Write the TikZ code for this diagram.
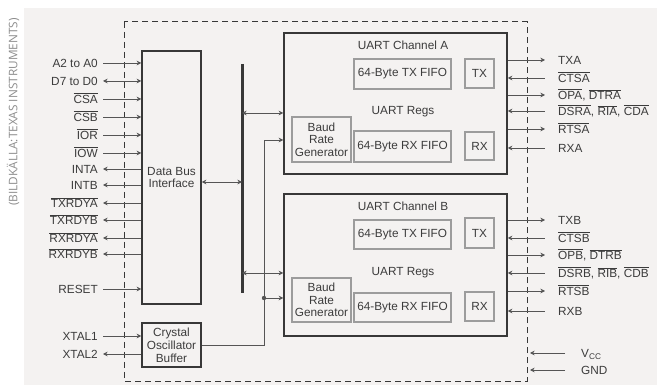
\documentclass[tikz,border=0pt]{standalone}
\usepackage{fontspec}
\setmainfont{Liberation Sans}
\newfontfamily\creditfont{Open Sans}
\definecolor{chipgray}{HTML}{383838}
\definecolor{wiregray}{HTML}{555555}
\definecolor{fifogray}{HTML}{9C9C9C}
\definecolor{pagegray}{HTML}{F4F2F1}
\definecolor{labelgray}{HTML}{3C3C3C}
\definecolor{creditgray}{HTML}{8C8C8C}
\usetikzlibrary{arrows.meta,positioning}
\newcommand{\chipfont}{\fontsize{11.8}{12.5}\selectfont}
\newcommand{\ovl}[1]{$\overline{\mbox{#1}}$}
\tikzset{
    chipblock/.style={
        draw=chipgray,
        line width=1.5pt,
        inner sep=0pt,
        align=center,
        font=\chipfont,
        text=labelgray
    },
    fifoblock/.style={
        draw=fifogray,
        line width=1.3pt,
        inner sep=0pt,
        align=center,
        font=\chipfont,
        text=labelgray
    },
    chiptext/.style={
        inner sep=0pt,
        text height=8.5pt,
        text depth=0pt,
        font=\chipfont,
        text=labelgray
    },
    pinleft/.style={
        chiptext,
        anchor=east
    },
    pinright/.style={
        chiptext,
        anchor=west
    },
    wire/.style={
        draw=wiregray,
        line width=0.75pt
    },
    wireto/.style={
        wire,
        -{Stealth[length=4.6pt,width=4.6pt]}
    },
    wirefrom/.style={
        wire,
        {Stealth[length=4.6pt,width=4.6pt]}-
    },
    wireboth/.style={
        wire,
        {Stealth[length=4.6pt,width=4.6pt]}-{Stealth[length=4.6pt,width=4.6pt]}
    },
    busline/.style={
        draw=chipgray,
        line width=3pt
    }
}

\begin{document}
\begin{tikzpicture}[x=1pt,y=-1pt]
        \useasboundingbox (0,0) rectangle (657,385);
        \fill[pagegray] (24,8) rectangle (657,385);
        \node[rotate=90,inner sep=0pt,text=creditgray,
            font=\creditfont\fontsize{11.8}{12}\selectfont]
            (credit) at (13,112) {(BILDKÄLLA:TEXAS INSTRUMENTS)};

        % chip outline
        \draw[draw=chipgray,line width=1pt,dash pattern=on 6pt off 4pt]
            (124,22) rectangle (527,381);

        \node[chipblock,minimum width=59pt,minimum height=253pt]
            (dbi) at (171.5,177.5) {Data Bus\\Interface};
        \node[chipblock,minimum width=59pt,minimum height=44pt,
            font=\fontsize{11.8}{13}\selectfont]
            (crystal) at (171.5,345) {Crystal\\Oscillator\\Buffer};

        % channel A
        \node[chipblock,minimum width=223pt,minimum height=141pt]
            (chanA) at (395.5,103.5) {};
        \node[chiptext] (titleA) at (403,45) {UART Channel A};
        \node[chiptext] (regsA) at (403,110) {UART Regs};
        \node[fifoblock,minimum width=97pt,minimum height=30pt]
            (txfifoA) at (402.5,74) {64-Byte TX FIFO};
        \node[fifoblock,minimum width=29pt,minimum height=29pt]
            (txA) at (479.5,73.5) {TX};
        \node[fifoblock,minimum width=59pt,minimum height=45pt]
            (baudA) at (321.5,139.5) {Baud\\Rate\\Generator};
        \node[fifoblock,minimum width=97pt,minimum height=31pt]
            (rxfifoA) at (402.5,146.5) {64-Byte RX FIFO};
        \node[fifoblock,minimum width=29pt,minimum height=28pt]
            (rxA) at (479.5,146) {RX};

        % channel B
        \node[chipblock,minimum width=223pt,minimum height=142pt]
            (chanB) at (395.5,265) {};
        \node[chiptext] (titleB) at (403,206) {UART Channel B};
        \node[chiptext] (regsB) at (403,271) {UART Regs};
        \node[fifoblock,minimum width=97pt,minimum height=29pt]
            (txfifoB) at (402.5,234.5) {64-Byte TX FIFO};
        \node[fifoblock,minimum width=29pt,minimum height=30pt]
            (txB) at (479.5,233) {TX};
        \node[fifoblock,minimum width=59pt,minimum height=44pt]
            (baudB) at (321.5,300) {Baud\\Rate\\Generator};
        \node[fifoblock,minimum width=97pt,minimum height=29pt]
            (rxfifoB) at (402.5,307.5) {64-Byte RX FIFO};
        \node[fifoblock,minimum width=29pt,minimum height=29pt]
            (rxB) at (479.5,306.5) {RX};

        % internal bus and clock
        \coordinate (busTop) at (242,64);
        \coordinate (busBot) at (242,293);
        \coordinate (busDbi) at (242,182);
        \coordinate (busA) at (242,113);
        \coordinate (busB) at (242,273);
        \coordinate (clkA) at (264,140);
        \coordinate (clkB) at (264,298);
        \draw[busline] (busTop) -- (busBot);
        \draw[wireboth] (busDbi -| dbi.east) -- (busDbi);
        \draw[wireboth] (busA) -- (busA -| chanA.west);
        \draw[wireboth] (busB) -- (busB -| chanB.west);
        \draw[wireto] (crystal.east) -| (clkA) -- (clkA -| chanA.west);
        \draw[wireto] (clkB) -- (clkB -| chanB.west);
        \fill[wiregray] (clkB) circle (2.2pt);

        % host side pins
        \node[pinleft] (a2L) at (98,63) {A2 to A0};
        \node[pinleft] (d7L) at (98,81) {D7 to D0};
        \node[pinleft] (csaL) at (98,99) {\ovl{CSA}};
        \node[pinleft] (csbL) at (98,117) {\ovl{CSB}};
        \node[pinleft] (iorL) at (98,135) {\ovl{IOR}};
        \node[pinleft] (iowL) at (98,153) {\ovl{IOW}};
        \node[pinleft] (intaL) at (98,169) {INTA};
        \node[pinleft] (intbL) at (98,185) {INTB};
        \node[pinleft] (txrdyaL) at (98,203) {\ovl{TXRDYA}};
        \node[pinleft] (txrdybL) at (98,220) {\ovl{TXRDYB}};
        \node[pinleft] (rxrdyaL) at (98,238) {\ovl{RXRDYA}};
        \node[pinleft] (rxrdybL) at (98,254) {\ovl{RXRDYB}};
        \node[pinleft] (resetL) at (98,289) {RESET};
        \node[pinleft] (xtal1L) at (98,336) {XTAL1};
        \node[pinleft] (xtal2L) at (98,354) {XTAL2};

        \draw[wireto] ([xshift=5pt]a2L.east) -- (a2L.east -| dbi.west);
        \draw[wireboth] ([xshift=5pt]d7L.east) -- (d7L.east -| dbi.west);
        \draw[wireto] ([xshift=5pt]csaL.east) -- (csaL.east -| dbi.west);
        \draw[wireto] ([xshift=5pt]csbL.east) -- (csbL.east -| dbi.west);
        \draw[wireto] ([xshift=5pt]iorL.east) -- (iorL.east -| dbi.west);
        \draw[wireto] ([xshift=5pt]iowL.east) -- (iowL.east -| dbi.west);
        \draw[wirefrom] ([xshift=5pt]intaL.east) -- (intaL.east -| dbi.west);
        \draw[wirefrom] ([xshift=5pt]intbL.east) -- (intbL.east -| dbi.west);
        \draw[wirefrom] ([xshift=5pt]txrdyaL.east) -- (txrdyaL.east -| dbi.west);
        \draw[wirefrom] ([xshift=5pt]txrdybL.east) -- (txrdybL.east -| dbi.west);
        \draw[wirefrom] ([xshift=5pt]rxrdyaL.east) -- (rxrdyaL.east -| dbi.west);
        \draw[wirefrom] ([xshift=5pt]rxrdybL.east) -- (rxrdybL.east -| dbi.west);
        \draw[wireto] ([xshift=5pt]resetL.east) -- (resetL.east -| dbi.west);
        \draw[wireto] ([xshift=5pt]xtal1L.east) -- (xtal1L.east -| crystal.west);
        \draw[wirefrom] ([xshift=5pt]xtal2L.east) -- (xtal2L.east -| crystal.west);

        % serial side pins, channel A
        \node[pinright] (txaL) at (558,60) {TXA};
        \node[pinright] (ctsaL) at (558,78) {\ovl{CTSA}};
        \node[pinright] (opaL) at (558,95) {\ovl{OPA}, \ovl{DTRA}};
        \node[pinright] (dsraL) at (558,111) {\ovl{DSRA}, \ovl{RIA}, \ovl{CDA}};
        \node[pinright] (rtsaL) at (558,129) {\ovl{RTSA}};
        \node[pinright] (rxaL) at (558,148) {RXA};

        \draw[wireto] (txaL.west -| chanA.east) -- ([xshift=-13pt]txaL.west);
        \draw[wirefrom] (ctsaL.west -| chanA.east) -- ([xshift=-13pt]ctsaL.west);
        \draw[wireto] (opaL.west -| chanA.east) -- ([xshift=-13pt]opaL.west);
        \draw[wirefrom] (dsraL.west -| chanA.east) -- ([xshift=-13pt]dsraL.west);
        \draw[wireto] (rtsaL.west -| chanA.east) -- ([xshift=-13pt]rtsaL.west);
        \draw[wirefrom] (rxaL.west -| chanA.east) -- ([xshift=-13pt]rxaL.west);

        % serial side pins, channel B
        \node[pinright] (txbL) at (558,220) {TXB};
        \node[pinright] (ctsbL) at (558,238) {\ovl{CTSB}};
        \node[pinright] (opbL) at (558,255) {\ovl{OPB}, \ovl{DTRB}};
        \node[pinright] (dsrbL) at (558,273) {\ovl{DSRB}, \ovl{RIB}, \ovl{CDB}};
        \node[pinright] (rtsbL) at (558,291) {\ovl{RTSB}};
        \node[pinright] (rxbL) at (558,311) {RXB};

        \draw[wireto] (txbL.west -| chanB.east) -- ([xshift=-13pt]txbL.west);
        \draw[wirefrom] (ctsbL.west -| chanB.east) -- ([xshift=-13pt]ctsbL.west);
        \draw[wireto] (opbL.west -| chanB.east) -- ([xshift=-13pt]opbL.west);
        \draw[wirefrom] (dsrbL.west -| chanB.east) -- ([xshift=-13pt]dsrbL.west);
        \draw[wireto] (rtsbL.west -| chanB.east) -- ([xshift=-13pt]rtsbL.west);
        \draw[wirefrom] (rxbL.west -| chanB.east) -- ([xshift=-13pt]rxbL.west);

        % supply
        \node[pinright] (vccL) at (581,353) {V\textsubscript{CC}};
        \node[pinright] (gndL) at (581,370) {GND};
        \draw[wireto] ([xshift=-16pt]vccL.west) -- ([xshift=-51pt]vccL.west);
        \draw[wireto] ([xshift=-16pt]gndL.west) -- ([xshift=-51pt]gndL.west);
    \end{tikzpicture}
\end{document}
